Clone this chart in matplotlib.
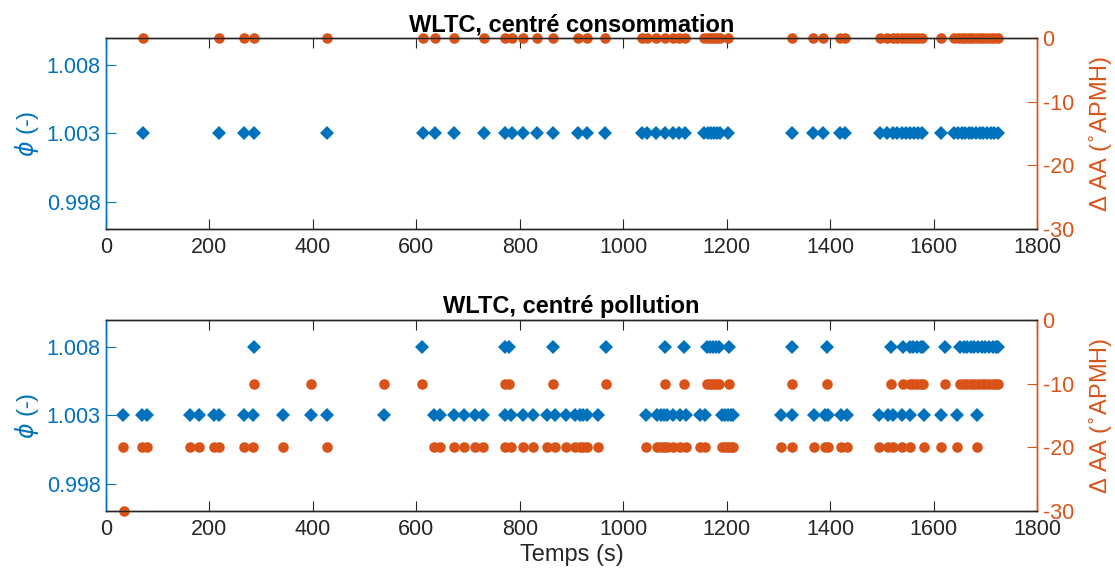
import numpy as np
import matplotlib
matplotlib.use("Agg")
import matplotlib.pyplot as plt

plt.rcParams['font.family'] = ['Liberation Sans', 'DejaVu Sans']
plt.rcParams['mathtext.fontset'] = 'dejavusans'
plt.rcParams['axes.unicode_minus'] = False

# ---------------- data ----------------
x_ticks = [0, 200, 400, 600, 800, 1000, 1200, 1400, 1600, 1800]
phi_ticks = [0.998, 1.003, 1.008]
aa_ticks = [-30, -20, -10, 0]
titles = ['WLTC, centré consommation', 'WLTC, centré pollution']

# top panel: every point phi = 1.003, dAA = 0
top_t = [72, 219, 266, 286, 428, 612, 636, 673, 730, 771, 784, 807, 833, 865,
         913, 929, 965, 1037, 1045, 1064, 1081, 1097, 1108, 1119,
         1157, 1163, 1169, 1175, 1181, 1187, 1203, 1327, 1367, 1387, 1419, 1428,
         1496, 1509, 1522, 1530, 1538, 1546, 1554, 1562, 1570, 1578, 1615,
         1640, 1647, 1654, 1661, 1668, 1675, 1682, 1689, 1696, 1703, 1710, 1717, 1724]
top_phi_level = 1.003
top_aa_level = 0

# bottom panel
bot_t_phi1003 = [33, 69, 79, 163, 180, 209, 219, 266, 285, 342, 396, 428, 538,
                 635, 646, 672, 692, 713, 728, 771, 782, 807, 826, 852, 868, 889,
                 906, 916, 922, 929, 952, 1044, 1066, 1072, 1078, 1084, 1097, 1110,
                 1121, 1148, 1158, 1190, 1196, 1202, 1208, 1213, 1304, 1327, 1369,
                 1390, 1396, 1420, 1432, 1494, 1512, 1522, 1538, 1554, 1582, 1615,
                 1646, 1684]
bot_t_phi1008 = [287, 610, 772, 780, 865, 966, 1081, 1117, 1161, 1167, 1173, 1179,
                 1185, 1205, 1327, 1394, 1517, 1541, 1554, 1561, 1568, 1575, 1580,
                 1622, 1651, 1658, 1665, 1672, 1679, 1686, 1693, 1700, 1707, 1714,
                 1721, 1725]
bot_t_aa20 = [33, 69, 79, 163, 180, 209, 219, 266, 285, 342, 428,
              635, 646, 672, 692, 713, 728, 771, 782, 807, 826, 852, 868, 889,
              906, 916, 922, 929, 952, 1044, 1066, 1072, 1078, 1084, 1097, 1110,
              1121, 1148, 1158, 1190, 1196, 1202, 1208, 1213, 1304, 1327, 1369,
              1390, 1396, 1420, 1432, 1494, 1512, 1522, 1538, 1554, 1582, 1615,
              1646, 1684]
bot_t_aa10 = [287, 396, 538, 610, 772, 780, 865, 966, 1081, 1117, 1161, 1167, 1173,
              1179, 1185, 1205, 1327, 1394, 1517, 1541, 1554, 1561, 1568, 1575, 1580,
              1622, 1651, 1658, 1665, 1672, 1679, 1686, 1693, 1700, 1707, 1714,
              1721, 1725]
bot_t_aa30 = [35]

# ---------------- style ----------------
BLUE = '#0072BD'
ORANGE = '#D95319'
DARK = '#262626'
TICK_FS = 15.5
LAB_FS = 17
D_MS = 7.4
O_MS = 7.6

fig = plt.figure(figsize=(11.15, 5.8), dpi=100)
positions = [[0.0951, 0.6052, 0.8350, 0.3293], [0.0951, 0.1190, 0.8350, 0.3293]]


def style(ax, ax2, title, xlabel=None):
    ax.set_xlim(0, 1800)
    ax.set_xticks(x_ticks)
    ax.set_ylim(0.996, 1.010)
    ax.set_yticks(phi_ticks)
    ax.set_yticklabels([f'{v:.3f}' for v in phi_ticks])
    ax2.set_ylim(-30, 0)
    ax2.set_yticks(aa_ticks)
    ax.tick_params(axis='x', direction='in', length=7, width=0.8, top=True,
                   bottom=True, labelsize=TICK_FS, colors=DARK, pad=6)
    ax.tick_params(axis='y', direction='in', length=7, width=0.8, left=True,
                   right=False, labelsize=TICK_FS, colors=BLUE, pad=4)
    ax2.tick_params(axis='y', direction='in', length=7, width=0.8, left=False,
                    right=True, labelsize=TICK_FS, colors=ORANGE, pad=4)
    for a in (ax, ax2):
        a.spines['top'].set_color(DARK)
        a.spines['bottom'].set_color(DARK)
        a.spines['left'].set_color(BLUE)
        a.spines['right'].set_color(ORANGE)
        for s in a.spines.values():
            s.set_linewidth(1.0)
    ax.set_ylabel(r'$\phi$ (-)', color=BLUE, fontsize=LAB_FS, labelpad=4)
    ax2.set_ylabel(r'Δ AA ($^{\circ}$APMH)', color=ORANGE, fontsize=LAB_FS, labelpad=10)
    ax.set_title(title, fontsize=LAB_FS, fontweight='bold', color='black', pad=5)
    if xlabel:
        ax.set_xlabel(xlabel, fontsize=LAB_FS, color=DARK, labelpad=3)


# top panel
ax = fig.add_axes(positions[0])
ax2 = ax.twinx()
ax.plot(top_t, np.full(len(top_t), top_phi_level), linestyle='none', marker='D',
        ms=D_MS, color=BLUE, mec=BLUE, mew=0, clip_on=False)
ax2.plot(top_t, np.full(len(top_t), top_aa_level), linestyle='none', marker='o',
         ms=O_MS, color=ORANGE, mec=ORANGE, mew=0, clip_on=False)
style(ax, ax2, titles[0])

# bottom panel
bx = fig.add_axes(positions[1])
bx2 = bx.twinx()
bx.plot(bot_t_phi1003, np.full(len(bot_t_phi1003), 1.003), linestyle='none',
        marker='D', ms=D_MS, color=BLUE, mec=BLUE, mew=0, clip_on=False)
bx.plot(bot_t_phi1008, np.full(len(bot_t_phi1008), 1.008), linestyle='none',
        marker='D', ms=D_MS, color=BLUE, mec=BLUE, mew=0, clip_on=False)
bx2.plot(bot_t_aa20, np.full(len(bot_t_aa20), -20), linestyle='none', marker='o',
         ms=O_MS, color=ORANGE, mec=ORANGE, mew=0, clip_on=False)
bx2.plot(bot_t_aa10, np.full(len(bot_t_aa10), -10), linestyle='none', marker='o',
         ms=O_MS, color=ORANGE, mec=ORANGE, mew=0, clip_on=False)
bx2.plot(bot_t_aa30, np.full(len(bot_t_aa30), -30), linestyle='none', marker='o',
         ms=O_MS, color=ORANGE, mec=ORANGE, mew=0, clip_on=False)
style(bx, bx2, titles[1], xlabel='Temps (s)')

fig.savefig('out.png', dpi=100)
